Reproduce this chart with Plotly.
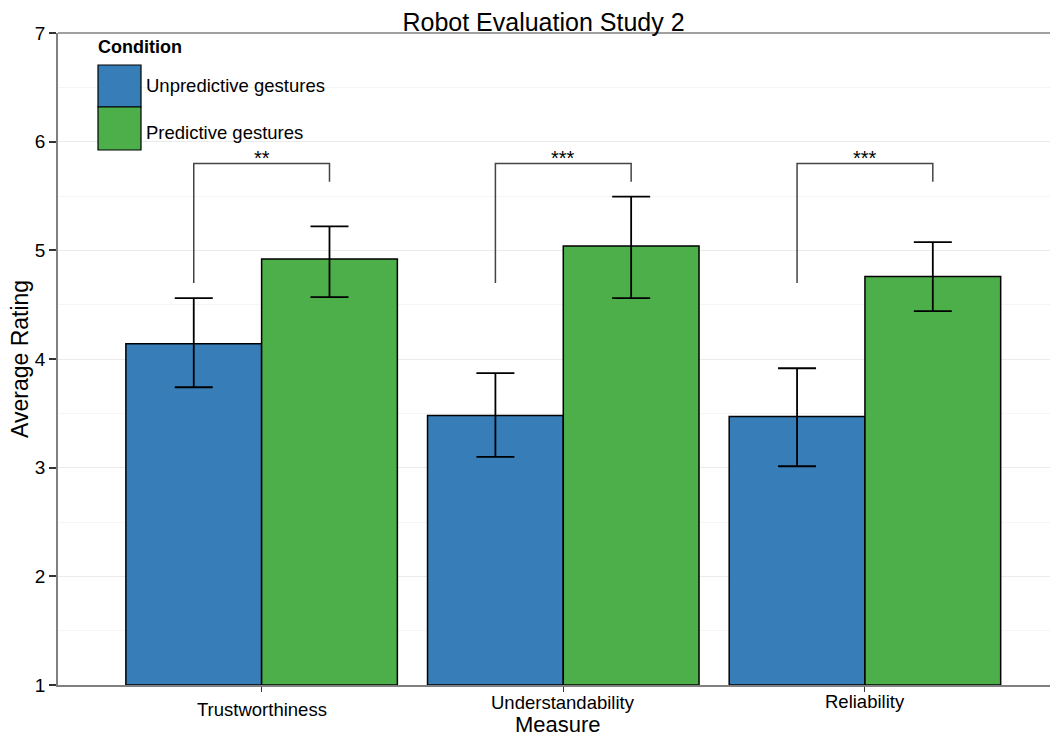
import plotly.graph_objects as go

measures = ["Trustworthiness", "Understandability", "Reliability"]
conditions = ["Unpredictive gestures", "Predictive gestures"]
colors = ["#377EB8", "#4DAF4A"]

unpred_mean = [4.14, 3.48, 3.47]
unpred_up = [0.42, 0.39, 0.445]
unpred_down = [0.40, 0.38, 0.457]

pred_mean = [4.92, 5.04, 4.76]
pred_up = [0.30, 0.454, 0.316]
pred_down = [0.35, 0.479, 0.320]

stars = ["**", "***", "***"]
bracket_top = 5.80
bracket_left_bottom = 4.70
bracket_right_bottom = 5.63
bracket_offset = 0.225

y_ticks = [1, 2, 3, 4, 5, 6, 7]

FONT = "Liberation Sans, Arial, Helvetica, sans-serif"
xs = list(range(len(measures)))

fig = go.Figure()
series = [
    (conditions[0], unpred_mean, unpred_up, unpred_down, colors[0]),
    (conditions[1], pred_mean, pred_up, pred_down, colors[1]),
]
for name, mean, up, down, col in series:
    fig.add_trace(go.Bar(
        x=xs, y=[m - 1 for m in mean], base=1, name=name,
        marker=dict(color=col, line=dict(color="black", width=1.5)),
        error_y=dict(type="data", symmetric=False, array=up, arrayminus=down,
                     color="black", thickness=1.8, width=19),
        showlegend=False,
    ))

# significance brackets
for i, s in enumerate(stars):
    xl = xs[i] - bracket_offset
    xr = xs[i] + bracket_offset
    fig.add_trace(go.Scatter(
        x=[xl, xl, xr, xr],
        y=[bracket_left_bottom, bracket_top, bracket_top, bracket_right_bottom],
        mode="lines", line=dict(color="#444444", width=1.5),
        showlegend=False, hoverinfo="skip",
    ))
    fig.add_annotation(x=xs[i], y=bracket_top, text=s, showarrow=False,
                       yanchor="middle", yshift=5,
                       font=dict(family=FONT, size=20, color="black"))

# x category labels (annotations to reproduce offsets)
label_shifts = [-24, -17, -16]
for i, m in enumerate(measures):
    fig.add_annotation(x=xs[i], y=0, yref="paper", text=m, showarrow=False,
                       yanchor="middle", yshift=label_shifts[i],
                       font=dict(family=FONT, size=18.5, color="black"))

# axis titles
fig.add_annotation(x=0.5, y=0, xref="paper", yref="paper", text="Measure",
                   showarrow=False, yanchor="middle", yshift=-39,
                   font=dict(family=FONT, size=22, color="black"))
fig.add_annotation(x=-0.038, y=0.5, xref="paper", yref="paper",
                   text="Average Rating", textangle=-90, showarrow=False,
                   xanchor="center", yanchor="middle",
                   font=dict(family=FONT, size=23, color="black"))

# manual legend (positions in screen pixels converted to plot-area fractions)
H = 652.0
def py(p):
    return (685 - p) / H
def px(p):
    return (p - 58) / 1000.0

fig.add_shape(type="rect", xref="paper", yref="paper",
              x0=px(98), x1=px(330), y0=py(153), y1=py(36),
              fillcolor="white", line=dict(width=0), layer="below")
fig.add_shape(type="rect", xref="paper", yref="paper",
              x0=px(98), x1=px(141), y0=py(107), y1=py(65),
              fillcolor=colors[0], line=dict(color="black", width=1.2))
fig.add_shape(type="rect", xref="paper", yref="paper",
              x0=px(98), x1=px(141), y0=py(150), y1=py(107),
              fillcolor=colors[1], line=dict(color="black", width=1.2))
fig.add_annotation(x=px(96), y=py(47), xref="paper", yref="paper",
                   text="<b>Condition</b>", showarrow=False,
                   xanchor="left", yanchor="middle",
                   font=dict(family=FONT, size=18, color="black"))
fig.add_annotation(x=px(144), y=py(86), xref="paper", yref="paper",
                   text=conditions[0], showarrow=False,
                   xanchor="left", yanchor="middle",
                   font=dict(family=FONT, size=18.5, color="black"))
fig.add_annotation(x=px(144), y=py(132), xref="paper", yref="paper",
                   text=conditions[1], showarrow=False,
                   xanchor="left", yanchor="middle",
                   font=dict(family=FONT, size=18.5, color="black"))

# page body has an 8px default margin: figure is 8px smaller, margins reduced by 8
fig.update_layout(
    width=1050, height=730,
    margin=dict(l=50, r=0, t=25, b=53),
    paper_bgcolor="white", plot_bgcolor="white",
    barmode="group", bargap=0.1, bargroupgap=0,
    title=dict(text="Robot Evaluation Study 2", x=0.510, xanchor="center",
               y=1 - 14 / 730, yanchor="middle",
               font=dict(family=FONT, size=25, color="black")),
    font=dict(family=FONT, color="black"),
    xaxis=dict(range=[-0.675, 2.64], tickvals=xs, ticktext=["", "", ""],
               showgrid=False, zeroline=False,
               showline=True, linecolor="#808080", linewidth=1.5,
               ticks="outside", ticklen=5, tickcolor="#333333", tickwidth=1.2),
    yaxis=dict(range=[1, 7], tickvals=y_ticks, showgrid=True,
               gridcolor="#EBEBEB", gridwidth=1.2,
               minor=dict(dtick=0.5, showgrid=True, gridcolor="#F5F5F5", gridwidth=1),
               zeroline=False, showline=True, linecolor="#808080", linewidth=1.5,
               mirror=False, ticks="outside", ticklen=7, tickcolor="#333333",
               tickwidth=1.5, tickfont=dict(family=FONT, size=19, color="black")),
)
# top border line
fig.add_shape(type="line", xref="paper", yref="paper", x0=0, x1=1, y0=1, y1=1,
              line=dict(color="#808080", width=1.5))

fig.write_html("out.html")
